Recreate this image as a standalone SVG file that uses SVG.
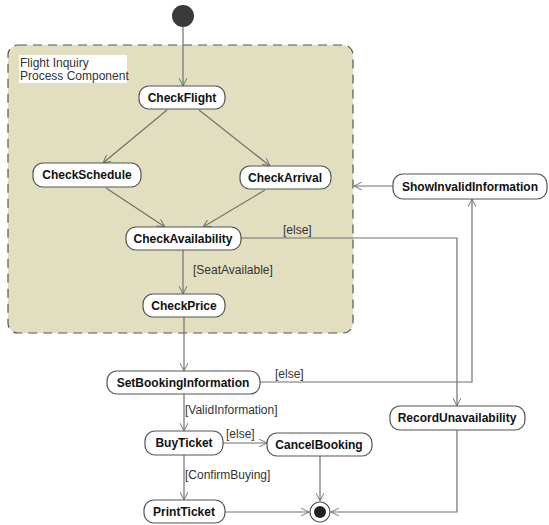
<svg xmlns="http://www.w3.org/2000/svg" width="549" height="525" viewBox="0 0 549 525">
<style>
.node rect{fill:#ffffff;stroke:#555555;stroke-width:1.2}
.node text{font-family:"Liberation Sans",Arial,sans-serif;font-weight:bold;font-size:12px;fill:#111111;text-anchor:middle}
.conn{fill:none;stroke:#707070;stroke-width:1.2}
.lbl{font-family:"Liberation Sans",Arial,sans-serif;font-size:12px;fill:#333333}
</style>
<defs>
<marker id="arr" viewBox="0 0 10 10" refX="10" refY="5" markerWidth="8" markerHeight="8" orient="auto" markerUnits="userSpaceOnUse">
<path d="M0,0 L10,5 L0,10" fill="none" stroke="#707070" stroke-width="1.2"/>
</marker>
</defs>
<rect width="549" height="525" fill="#ffffff"/>
<g id="container">
<rect x="8" y="45" width="345" height="288" rx="10" fill="#e2dfc0" stroke="#555555" stroke-width="1.2" stroke-dasharray="9,6"/>
<rect x="19" y="55" width="108" height="28" fill="#ffffff"/>
<text class="lbl" x="20" y="67" fill="#111111">Flight Inquiry</text>
<text class="lbl" x="20" y="80" fill="#111111">Process Component</text>
</g>
<g id="connectors">
<line class="conn" x1="183" y1="27" x2="183" y2="86" marker-end="url(#arr)"/>
<line class="conn" x1="167" y1="110" x2="103" y2="163" marker-end="url(#arr)"/>
<line class="conn" x1="199" y1="110" x2="270" y2="166" marker-end="url(#arr)"/>
<line class="conn" x1="106" y1="188" x2="165" y2="227" marker-end="url(#arr)"/>
<line class="conn" x1="265" y1="190" x2="203" y2="227" marker-end="url(#arr)"/>
<line class="conn" x1="183" y1="250" x2="183" y2="294" marker-end="url(#arr)"/>
<polyline class="conn" points="241,238 457,238 457,406" marker-end="url(#arr)"/>
<line class="conn" x1="184" y1="317" x2="184" y2="371" marker-end="url(#arr)"/>
<polyline class="conn" points="260,382 472,382 472,199" marker-end="url(#arr)"/>
<line class="conn" x1="393" y1="186" x2="354" y2="186" marker-end="url(#arr)"/>
<line class="conn" x1="184" y1="394" x2="184" y2="431" marker-end="url(#arr)"/>
<line class="conn" x1="223" y1="443" x2="267" y2="443" marker-end="url(#arr)"/>
<line class="conn" x1="184" y1="455" x2="184" y2="500" marker-end="url(#arr)"/>
<line class="conn" x1="225" y1="512" x2="309" y2="512" marker-end="url(#arr)"/>
<line class="conn" x1="320" y1="456" x2="320" y2="501" marker-end="url(#arr)"/>
<polyline class="conn" points="457,430 457,512 331,512" marker-end="url(#arr)"/>
<text class="lbl" x="193" y="274">[SeatAvailable]</text>
<text class="lbl" x="283" y="234">[else]</text>
<text class="lbl" x="275" y="378">[else]</text>
<text class="lbl" x="185" y="414">[ValidInformation]</text>
<text class="lbl" x="226" y="438">[else]</text>
<text class="lbl" x="185" y="479">[ConfirmBuying]</text>
</g>
<g id="initial"><circle cx="183" cy="16" r="11" fill="#3a3a3a"/></g>
<g id="CheckFlight" class="node"><rect x="139" y="86" width="86" height="23" rx="10"/><text x="182" y="102">CheckFlight</text></g>
<g id="CheckSchedule" class="node"><rect x="33" y="163" width="108" height="24" rx="10"/><text x="87" y="179">CheckSchedule</text></g>
<g id="CheckArrival" class="node"><rect x="240" y="166" width="91" height="23" rx="10"/><text x="285" y="182">CheckArrival</text></g>
<g id="CheckAvailability" class="node"><rect x="126" y="227" width="115" height="23" rx="10"/><text x="183" y="243">CheckAvailability</text></g>
<g id="CheckPrice" class="node"><rect x="143" y="294" width="82" height="23" rx="10"/><text x="184" y="310">CheckPrice</text></g>
<g id="ShowInvalidInformation" class="node"><rect x="393" y="174" width="154" height="25" rx="10"/><text x="470" y="191">ShowInvalidInformation</text></g>
<g id="SetBookingInformation" class="node"><rect x="107" y="371" width="153" height="23" rx="10"/><text x="183" y="387">SetBookingInformation</text></g>
<g id="RecordUnavailability" class="node"><rect x="390" y="406" width="135" height="24" rx="10"/><text x="457" y="422">RecordUnavailability</text></g>
<g id="BuyTicket" class="node"><rect x="145" y="431" width="78" height="24" rx="10"/><text x="184" y="447">BuyTicket</text></g>
<g id="CancelBooking" class="node"><rect x="267" y="433" width="105" height="23" rx="10"/><text x="319" y="449">CancelBooking</text></g>
<g id="PrintTicket" class="node"><rect x="144" y="500" width="81" height="23" rx="10"/><text x="184" y="516">PrintTicket</text></g>
<g id="final"><circle cx="320" cy="512" r="10" fill="#ffffff" stroke="#555555" stroke-width="1.2"/><circle cx="320" cy="512" r="6" fill="#222222"/></g>
</svg>
